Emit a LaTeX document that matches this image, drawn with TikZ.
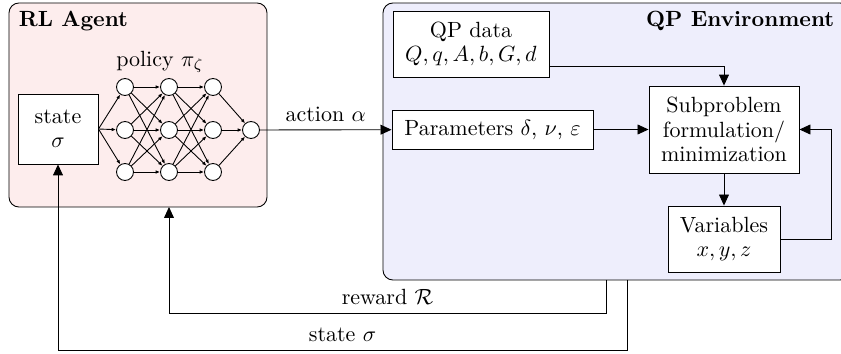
\documentclass[tikz,border=0pt]{standalone}
\usepackage{amsmath,amssymb}
\usepackage{tikz}
\usetikzlibrary{arrows.meta, positioning, calc}
\definecolor{agentbg}{RGB}{253,237,237}
\definecolor{envbg}{RGB}{238,238,252}
\tikzstyle{blk} = [rectangle, draw, fill=white, align=center, inner sep=2pt, font=\fontsize{10}{11}\selectfont]
\tikzstyle{neuron} = [circle, draw, fill=white, minimum size=7.7pt, inner sep=0pt]
\tikzstyle{line} = [draw, -{Triangle[length=5pt,width=4.5pt]}]
\tikzstyle{wire} = [draw, -{Latex[length=2pt,width=1.6pt]}]
\tikzstyle{panel} = [draw, rounded corners=4.5pt]

\begin{document}
\begin{tikzpicture}[x=0.4545pt, y=-0.4545pt]
    \useasboundingbox (0,0) rectangle (841,354);
    %%% Panels:
    \path [panel, fill=agentbg] (9,3) rectangle (267,207);
    \path [panel, fill=envbg] (383,3) rectangle (850,280);
    \node [anchor=base west, font=\bfseries] (agent) at (11,27) {RL Agent};
    \node [anchor=base east, font=\bfseries] (env) at (842,27) {QP Environment};
    \coordinate (agentbot) at (169,207);
    \coordinate (rwd) at (606,280);
    \coordinate (obs) at (627,280);

    %%% Agent:
    \node [blk, minimum width=36.4pt, minimum height=31.8pt] (state) at (58,129) {state\\ $\sigma$};
    \node (policy) at (160,62) {policy $\pi_\zeta$};
    \foreach \l/\x in {1/125, 2/169, 3/213}
      \foreach \r/\y in {1/87, 2/130, 3/172}
        \node [neuron] (n\l\r) at (\x,\y) {};
    \node [neuron] (out) at (251,130) {};
    \foreach \r in {1,2,3} {
      \path [wire] (state.east) -- (n1\r);
      \path [wire] (n3\r) -- (out);
      \foreach \s in {1,2,3} {
        \path [wire] (n1\r) -- (n2\s);
        \path [wire] (n2\r) -- (n3\s);
      }
    }

    %%% Environment:
    \node [blk, minimum width=70.9pt, minimum height=30pt] (data) at (471,44) {QP data\\ $Q, q, A, b, G, d$};
    \node [blk, minimum width=91.4pt, minimum height=17.7pt] (param) at (492.5,129.5) {Parameters $\delta$, $\nu$, $\varepsilon$};
    \node [blk, minimum width=68.2pt, minimum height=39.5pt] (sub) at (724,129.5) {Subproblem\\ formulation/\\ minimization};
    \node [blk, minimum width=50.9pt, minimum height=30pt] (vars) at (724,239) {Variables\\ $x, y, z$};

    %%% Connections:
    \path [line] (out) -- node [above] (act) {action $\alpha$} (param);
    \path [line] ([yshift=-10pt]data.east) -| (sub);
    \path [line] (param) -- (sub);
    \path [line] (sub) -- (vars);
    \path [line] (vars.east) -- ++(51,0) |- (sub.east);
    \path [line] (rwd) -- ++(0,33) -| node [pos=0.25, above] (rlab) {reward $\mathcal{R}$} (agentbot);
    \path [line] (obs) -- ++(0,70) -| node [pos=0.25, above] (slab) {state $\sigma$} (state.south);
\end{tikzpicture}
\end{document}
